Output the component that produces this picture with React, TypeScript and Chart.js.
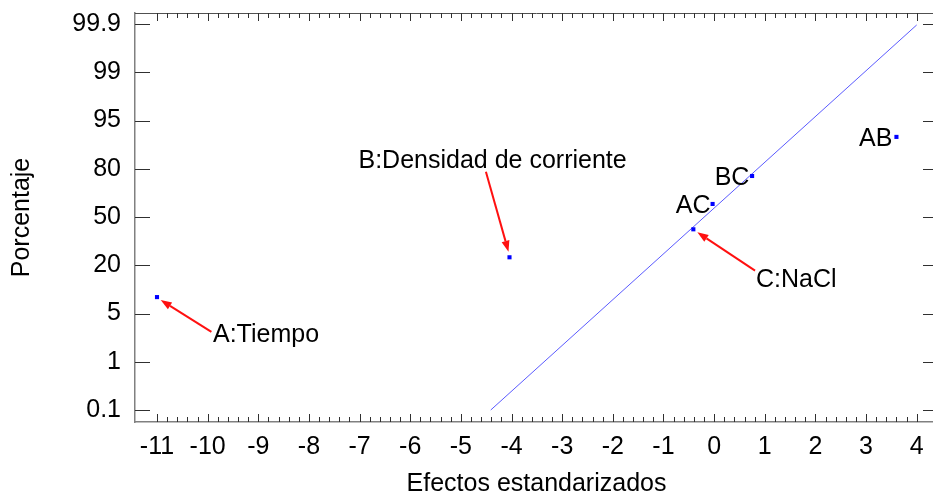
import React, { useEffect, useRef } from 'react';
import { Chart, registerables } from 'chart.js';

Chart.register(...registerables);

// ---- data ----
const EFFECT_NAMES = ['A:Tiempo', 'B:Densidad de corriente', 'C:NaCl', 'AC', 'BC', 'AB'];
const EFFECT_VALUES = [-11.0, -4.04, -0.41, -0.03, 0.75, 3.6];
const EFFECT_PROB_POS = [2.34, 3.165, 3.745, 4.27, 4.85, 5.66];

const PCT_LABELS = ['0.1', '1', '5', '20', '50', '80', '95', '99', '99.9'];
const PCT_POS = [0, 1, 2, 3, 4, 5, 6, 7, 8];
const X_TICKS = [-11, -10, -9, -8, -7, -6, -5, -4, -3, -2, -1, 0, 1, 2, 3, 4];

const REF_LINE_X = [-4.41, 4.0];
const REF_LINE_Y = [0, 7.98];

const X_TITLE = 'Efectos estandarizados';
const Y_TITLE = 'Porcentaje';

// ---- layout / style of annotations (pixel offsets relative to the point) ----
const LABEL_LAYOUT: any[] = [
  { align: 'left', dx: 56, dy: 44.5, arrow: { sx: 54.4, sy: 34.7, tx: 3.7, ty: 3 } },
  { align: 'left', dx: -151, dy: -89, arrow: { sx: -23.6, sy: -85.6, tx: -1, ty: -5.6 } },
  { align: 'left', dx: 62.7, dy: 58, arrow: { sx: 61.7, sy: 41.4, tx: 4, ty: 3 } },
  { align: 'right', dx: -2, dy: 8.7 },
  { align: 'right', dx: -2.7, dy: 9 },
  { align: 'right', dx: -4, dy: 9 },
];

const FONT_FAMILY = '"Liberation Sans", Arial, sans-serif';
const X_MIN = -11.4344;
const X_MAX = 4.4206;
const Y_MIN = -0.2487;
const Y_MAX = 8.228;

const framePlugin = {
  id: 'frameTicks',
  beforeDatasetsDraw(chart: any) {
    const { ctx, chartArea, scales } = chart;
    const { left, right, top, bottom } = chartArea;
    const x = scales.x;
    const y = scales.y;
    ctx.save();
    // top border
    ctx.strokeStyle = '#505050';
    ctx.lineWidth = 1;
    ctx.beginPath();
    ctx.moveTo(left, Math.round(top) + 0.5);
    ctx.lineTo(right, Math.round(top) + 0.5);
    ctx.moveTo(Math.round(right) - 0.5, top);
    ctx.lineTo(Math.round(right) - 0.5, bottom);
    ctx.stroke();

    ctx.strokeStyle = '#303030';
    ctx.beginPath();
    for (const v of PCT_POS) {
      const py = Math.round(y.getPixelForValue(v)) + 0.5;
      ctx.moveTo(left, py);
      ctx.lineTo(left + 15, py);
      ctx.moveTo(right - 15, py);
      ctx.lineTo(right, py);
    }
    const first = X_TICKS[0];
    const nSteps = (X_TICKS.length - 1) * 5;
    for (let i = 0; i <= nSteps; i++) {
      const v = first + i * 0.2;
      const px = Math.round(x.getPixelForValue(v)) + 0.5;
      const len = i % 5 === 0 ? 8 : 5;
      ctx.moveTo(px, bottom);
      ctx.lineTo(px, bottom - len);
      ctx.moveTo(px, top);
      ctx.lineTo(px, top + len);
    }
    ctx.stroke();
    ctx.restore();
  },
  afterDatasetsDraw(chart: any) {
    const { ctx, scales } = chart;
    const x = scales.x;
    const y = scales.y;
    ctx.save();
    ctx.font = `25px ${FONT_FAMILY}`;
    ctx.textBaseline = 'alphabetic';
    EFFECT_NAMES.forEach((name, i) => {
      const lay = LABEL_LAYOUT[i];
      const px = x.getPixelForValue(EFFECT_VALUES[i]);
      const py = y.getPixelForValue(EFFECT_PROB_POS[i]);
      ctx.fillStyle = '#000';
      ctx.textAlign = lay.align;
      ctx.fillText(name, px + lay.dx, py + lay.dy);
      if (lay.arrow) {
        const sx = px + lay.arrow.sx;
        const sy = py + lay.arrow.sy;
        const tx = px + lay.arrow.tx;
        const ty = py + lay.arrow.ty;
        const ang = Math.atan2(ty - sy, tx - sx);
        const headLen = 11;
        const headHalf = 4;
        const bx = tx - headLen * Math.cos(ang);
        const by = ty - headLen * Math.sin(ang);
        ctx.strokeStyle = '#ff1010';
        ctx.fillStyle = '#ff1010';
        ctx.lineWidth = 2;
        ctx.beginPath();
        ctx.moveTo(sx, sy);
        ctx.lineTo(bx, by);
        ctx.stroke();
        ctx.beginPath();
        ctx.moveTo(tx, ty);
        ctx.lineTo(bx + headHalf * Math.sin(ang), by - headHalf * Math.cos(ang));
        ctx.lineTo(bx - headHalf * Math.sin(ang), by + headHalf * Math.cos(ang));
        ctx.closePath();
        ctx.fill();
      }
    });
    ctx.restore();
  },
};

export default function App() {
  const canvasRef = useRef<HTMLCanvasElement | null>(null);

  useEffect(() => {
    const canvas = canvasRef.current;
    if (!canvas) return;
    const points = EFFECT_VALUES.map((v, i) => ({ x: v, y: EFFECT_PROB_POS[i] }));
    const line = REF_LINE_X.map((v, i) => ({ x: v, y: REF_LINE_Y[i] }));
    const chart = new Chart(canvas, {
      type: 'scatter',
      data: {
        datasets: [
          {
            data: points,
            pointStyle: 'rect',
            pointRadius: 2.9,
            backgroundColor: '#0000ff',
            borderWidth: 0,
          } as any,
          {
            data: line,
            showLine: true,
            pointRadius: 0,
            borderColor: '#5a5aff',
            borderWidth: 1,
            fill: false,
          } as any,
        ],
      },
      options: {
        animation: false,
        responsive: false,
        devicePixelRatio: 1,
        events: [],
        layout: { padding: { top: 13, right: 7, left: 0, bottom: 0 } },
        plugins: { legend: { display: false }, tooltip: { enabled: false } },
        scales: {
          x: {
            type: 'linear',
            position: 'bottom',
            min: X_MIN,
            max: X_MAX,
            grid: { display: false, drawTicks: false },
            border: { display: true, color: '#808080', width: 1.5 },
            afterBuildTicks: (s: any) => {
              s.ticks = X_TICKS.map((v) => ({ value: v }));
            },
            afterFit: (s: any) => {
              s.height = 75;
              s.paddingLeft = 0;
              s.paddingRight = 0;
            },
            ticks: {
              autoSkip: false,
              maxRotation: 0,
              padding: 10,
              color: '#000',
              font: { family: FONT_FAMILY, size: 25 },
              callback: (v: any) => String(v),
            },
            title: {
              display: true,
              text: X_TITLE,
              color: '#000',
              padding: 0,
              font: { family: FONT_FAMILY, size: 25, lineHeight: 1 },
            },
          },
          y: {
            type: 'linear',
            position: 'left',
            min: Y_MIN,
            max: Y_MAX,
            grid: { display: false, drawTicks: false },
            border: { display: true, color: '#808080', width: 1.5 },
            afterBuildTicks: (s: any) => {
              s.ticks = PCT_POS.map((v) => ({ value: v }));
            },
            afterFit: (s: any) => {
              s.width = 135;
              s.paddingTop = 0;
              s.paddingBottom = 0;
            },
            ticks: {
              autoSkip: false,
              padding: 14,
              color: '#000',
              font: { family: FONT_FAMILY, size: 25 },
              callback: (v: any) => {
                const idx = PCT_POS.indexOf(v);
                return idx >= 0 ? PCT_LABELS[idx] : '';
              },
            },
            title: {
              display: true,
              text: Y_TITLE,
              color: '#000',
              padding: { top: 9.5, bottom: 0 },
              font: { family: FONT_FAMILY, size: 25, lineHeight: 1 },
            },
          },
        },
      } as any,
      plugins: [framePlugin],
    });
    return () => chart.destroy();
  }, []);

  return (
    <div
      style={{
        position: 'fixed',
        left: 0,
        top: 0,
        width: 933,
        height: 497,
        overflow: 'hidden',
        background: '#ffffff',
      }}
    >
      <canvas ref={canvasRef} width={945} height={497} style={{ display: 'block' }} />
    </div>
  );
}
